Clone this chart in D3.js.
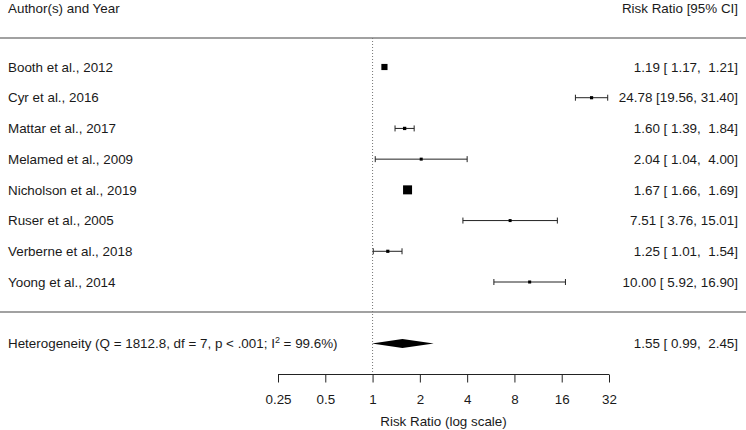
<!DOCTYPE html>
<html><head><meta charset="utf-8">
<script src="https://cdn.jsdelivr.net/npm/d3@7"></script>
<style>
html,body{margin:0;padding:0;background:#fff;}
svg text{font-family:"Liberation Sans",Arial,Helvetica,sans-serif;font-size:13.4px;fill:#1a1a1a;white-space:pre;}
</style></head>
<body><svg id="c" width="746" height="430"></svg>
<script>
const studies = ["Booth et al., 2012","Cyr et al., 2016","Mattar et al., 2017","Melamed et al., 2009","Nicholson et al., 2019","Ruser et al., 2005","Verberne et al., 2018","Yoong et al., 2014"];
const estimates = [1.19, 24.78, 1.60, 2.04, 1.67, 7.51, 1.25, 10.00];
const lowers    = [1.17, 19.56, 1.39, 1.04, 1.66, 3.76, 1.01, 5.92];
const uppers    = [1.21, 31.40, 1.84, 4.00, 1.69, 15.01, 1.54, 16.90];
const pooled = {est: 1.55, lo: 0.99, hi: 2.45};
const hetLabel = ["Heterogeneity (Q = 1812.8, df = 7, p < .001; I", "2", " = 99.6%)"];
const tickValues = [0.25, 0.5, 1, 2, 4, 8, 16, 32];
const tickLabels = ["0.25", "0.5", "1", "2", "4", "8", "16", "32"];
const headerLeft = "Author(s) and Year";
const headerRight = "Risk Ratio [95% CI]";
const axisTitle = "Risk Ratio (log scale)";

const svg = d3.select("#c");
const x = d3.scaleLog().base(2).domain([0.25, 32]).range([278, 609]);
const y = d3.scalePoint().domain(studies).range([67, 282]);
const yHet = 343.5, yTopLine = 38, yBotLine = 312, yAxis = 374.5;

// precision-based square sizes
const prec = studies.map((s,i)=> 3.92/(Math.log(uppers[i])-Math.log(lowers[i])));
const psize = d3.scaleLinear().domain(d3.extent(prec)).range([3, 9]);

// header
svg.append("text").attr("x",8).attr("y",8).attr("dy","0.35em").text(headerLeft);
svg.append("text").attr("x",738).attr("y",8).attr("dy","0.35em").attr("text-anchor","end").text(headerRight);

// separator lines
[yTopLine, yBotLine].forEach(v=>{
  svg.append("line").attr("x1",0).attr("x2",746).attr("y1",v).attr("y2",v)
    .attr("stroke","#444").attr("stroke-width",1.2);
});

// reference line at 1
svg.append("line").attr("x1",x(1)).attr("x2",x(1)).attr("y1",yTopLine).attr("y2",yAxis)
  .attr("stroke","#777").attr("stroke-width",1).attr("stroke-dasharray","1,2");

const fmt = d3.format(".2f");
const ciText = (e,l,u)=> `${fmt(e)} [${fmt(l).padStart(5," ")}, ${fmt(u).padStart(5," ")}]`;

const g = svg.append("g");
studies.forEach((s,i)=>{
  const yy = y(s);
  g.append("text").attr("x",8).attr("y",yy).attr("dy","0.35em").text(s);
  g.append("text").attr("x",738).attr("y",yy).attr("dy","0.35em").attr("text-anchor","end")
    .attr("xml:space","preserve").text(ciText(estimates[i],lowers[i],uppers[i]));
  const x1 = x(lowers[i]), x2 = x(uppers[i]);
  if (x2 - x1 > psize(prec[i])) {
    g.append("line").attr("x1",x1).attr("x2",x2).attr("y1",yy).attr("y2",yy).attr("stroke","#222").attr("stroke-width",1);
    [x1,x2].forEach(xx=> g.append("line").attr("x1",xx).attr("x2",xx).attr("y1",yy-3).attr("y2",yy+3).attr("stroke","#222").attr("stroke-width",1));
  }
  const sz = psize(prec[i]);
  g.append("rect").attr("x",x(estimates[i])-sz/2).attr("y",yy-sz/2).attr("width",sz).attr("height",sz).attr("fill","#000");
});

// heterogeneity row
const ht = svg.append("text").attr("x",8).attr("y",yHet + 4.7);
ht.append("tspan").text(hetLabel[0]);
ht.append("tspan").attr("dy","-5.5").style("font-size","9px").text(hetLabel[1]);
ht.append("tspan").attr("dy","5.5").text(hetLabel[2]);
svg.append("text").attr("x",738).attr("y",yHet).attr("dy","0.35em").attr("text-anchor","end")
  .attr("xml:space","preserve").text(ciText(pooled.est,pooled.lo,pooled.hi));
svg.append("polygon")
  .attr("points",[[x(pooled.lo),yHet],[x(pooled.est),yHet-4.5],[x(pooled.hi),yHet],[x(pooled.est),yHet+4.5]].map(p=>p.join(",")).join(" "))
  .attr("fill","#000");

// axis
const axis = d3.axisBottom(x).tickValues(tickValues).tickFormat((d,i)=>tickLabels[i]).tickSize(8).tickPadding(12);
const ag = svg.append("g").attr("transform",`translate(0,${yAxis})`).call(axis);
ag.select(".domain").attr("stroke","#222").attr("d",`M${x(0.25)},0H${x(32)}`);
ag.selectAll(".tick line").attr("stroke","#222");
ag.selectAll(".tick text").style("font-family","\"Liberation Sans\",Arial,sans-serif").style("font-size","13.4px").attr("fill","#1a1a1a");
ag.attr("font-size",null).attr("font-family",null);

svg.append("text").attr("x",(x(0.25)+x(32))/2).attr("y",421).attr("dy","0.35em").attr("text-anchor","middle").text(axisTitle);
</script></body></html>
